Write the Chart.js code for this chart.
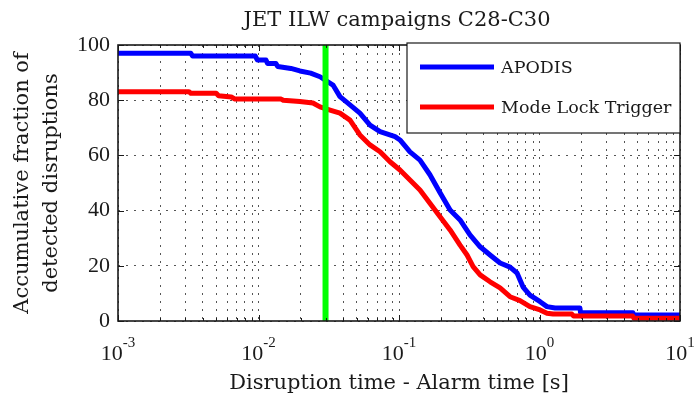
<!DOCTYPE html>
<html>
<head>
<meta charset="utf-8">
<script src="https://cdn.jsdelivr.net/npm/chart.js@4.4.1/dist/chart.umd.min.js"></script>
<style>
  html, body { margin: 0; padding: 0; background: #fff; }
  #wrap { width: 695px; height: 401px; }
</style>
</head>
<body>
<div id="wrap"><canvas id="cdf" width="695" height="401"></canvas></div>
<script>
// Warning time (s) vs. accumulated fraction of detected disruptions (%)
const apodisTime = [0.001, 0.0033, 0.0034, 0.0095, 0.0098, 0.0113, 0.0116, 0.0133, 0.0137, 0.017, 0.0197, 0.0235, 0.0274, 0.0339, 0.038, 0.0448, 0.0527, 0.0622, 0.0733, 0.0938, 0.1016, 0.1197, 0.141, 0.166, 0.196, 0.231, 0.272, 0.32, 0.378, 0.445, 0.524, 0.617, 0.692, 0.764, 0.855, 1.01, 1.13, 1.29, 1.94, 1.96, 4.62, 4.7, 10];
const apodisFrac = [97, 97, 96, 96, 94.6, 94.6, 93.3, 93.3, 92.2, 91.5, 90.6, 89.8, 88.5, 85.5, 81.3, 78.3, 75.3, 71, 68.6, 66.8, 65.6, 61.3, 58.3, 53, 46.5, 40.2, 36.6, 31.2, 26.9, 23.9, 21, 19.5, 17.4, 12.3, 9.4, 7, 5.2, 4.7, 4.7, 3.0, 3.0, 2.2, 2.2];

const mltTime = [0.001, 0.0032, 0.0033, 0.005, 0.0052, 0.0064, 0.0068, 0.0145, 0.015, 0.0197, 0.0244, 0.0274, 0.0323, 0.038, 0.0448, 0.0527, 0.0622, 0.0733, 0.0863, 0.1016, 0.1197, 0.141, 0.166, 0.196, 0.231, 0.272, 0.305, 0.337, 0.378, 0.445, 0.524, 0.617, 0.726, 0.855, 1.01, 1.13, 1.25, 1.7, 1.75, 4.6, 4.7, 10];
const mltFrac = [83.1, 83.1, 82.5, 82.5, 81.6, 81.2, 80.4, 80.4, 80.0, 79.5, 79, 77.6, 76.4, 75.3, 72.8, 67.4, 63.8, 61.3, 57.7, 54.7, 51.1, 47.5, 42.7, 37.8, 33, 27.5, 23.9, 19.7, 16.7, 14.2, 12, 8.8, 7.4, 5.2, 4.0, 2.8, 2.5, 2.5, 1.8, 1.8, 1.0, 1.0];

// alarm threshold marker
const alarmTime = 0.03;

const xDecades = [-3, -2, -1, 0, 1];
const yTickStep = 20;
const legendOrder = ['APODIS', 'Mode Lock Trigger'];

const serif = '"DejaVu Serif", serif';
const times = '"Liberation Serif", "Times New Roman", serif';
const ink = '#1a1a1a';

function toPoints(xs, ys) {
    return xs.map((x, i) => ({ x: x, y: ys[i] }));
}

// 1..9 x 10^n minor ticks for every decade, like a matlab log axis
const xTickValues = [];
xDecades.forEach((e, k) => {
    for (let s = 1; s <= 9; s++) {
        if (k === xDecades.length - 1 && s > 1) break;
        xTickValues.push(parseFloat((s * Math.pow(10, e)).toPrecision(6)));
    }
});

function isDecade(v) {
    const l = Math.log10(v);
    return Math.abs(l - Math.round(l)) < 1e-9;
}

const framePlugin = {
    id: 'frame',
    afterDatasetsDraw(chart) {
        const { ctx, chartArea: { left, right, top, bottom }, scales: { x, y } } = chart;
        ctx.save();
        ctx.strokeStyle = ink;
        ctx.lineWidth = 1;
        ctx.beginPath();
        x.ticks.forEach(t => {
            const px = Math.round(x.getPixelForValue(t.value)) + 0.5;
            const len = isDecade(t.value) ? 6 : 3;
            ctx.moveTo(px, bottom); ctx.lineTo(px, bottom - len);
            ctx.moveTo(px, top); ctx.lineTo(px, top + len);
        });
        y.ticks.forEach(t => {
            const py = Math.round(y.getPixelForValue(t.value)) + 0.5;
            ctx.moveTo(left, py); ctx.lineTo(left + 6, py);
            ctx.moveTo(right, py); ctx.lineTo(right - 6, py);
        });
        ctx.stroke();
        ctx.lineWidth = 1.6;
        ctx.strokeRect(left, top, right - left, bottom - top);
        ctx.restore();
    },
    afterDraw(chart) {
        const { ctx, chartArea: { left, right, top, bottom }, scales: { x } } = chart;
        ctx.save();
        ctx.fillStyle = ink;

        // title
        ctx.font = '21px ' + serif;
        ctx.textAlign = 'center';
        ctx.textBaseline = 'alphabetic';
        ctx.fillText('JET ILW campaigns C28-C30', (left + right) / 2 - 2, 26);

        // decade labels with raised exponent
        xDecades.forEach(e => {
            const px = x.getPixelForValue(Math.pow(10, e));
            const exp = String(e);
            ctx.font = '22px ' + times;
            const wb = ctx.measureText('10').width;
            ctx.font = '15px ' + times;
            const we = ctx.measureText(exp).width;
            const x0 = px - (wb + we) / 2;
            ctx.textAlign = 'left';
            ctx.font = '22px ' + times;
            ctx.fillText('10', x0, bottom + 39);
            ctx.font = '15px ' + times;
            ctx.fillText(exp, x0 + wb, bottom + 26);
        });

        // legend box in the upper right corner
        const lx = right - 273, ly = top - 2, lw = 273, lh = 90;
        ctx.fillStyle = '#fff';
        ctx.fillRect(lx, ly, lw, lh);
        ctx.strokeStyle = ink;
        ctx.lineWidth = 1.2;
        ctx.strokeRect(lx, ly, lw, lh);
        legendOrder.forEach((name, i) => {
            const d = chart.data.datasets.find(ds => ds.label === name);
            const yy = ly + 24 + i * 40;
            ctx.strokeStyle = d.borderColor;
            ctx.lineWidth = 5;
            ctx.beginPath();
            ctx.moveTo(lx + 13, yy);
            ctx.lineTo(lx + 87, yy);
            ctx.stroke();
            ctx.fillStyle = ink;
            ctx.font = '17.5px ' + serif;
            ctx.textAlign = 'left';
            ctx.textBaseline = 'middle';
            ctx.fillText(d.label, lx + 94, yy + 1);
        });
        ctx.restore();
    }
};

const gridOpts = { color: '#555', lineWidth: 1, drawTicks: false };

new Chart(document.getElementById('cdf'), {
    type: 'line',
    data: {
        datasets: [
            {
                label: 'Alarm',
                data: [{ x: alarmTime, y: 0 }, { x: alarmTime, y: 100 }],
                borderColor: '#00ff00',
                borderWidth: 6,
                pointRadius: 0
            },
            {
                label: 'Mode Lock Trigger',
                data: toPoints(mltTime, mltFrac),
                borderColor: '#ff0000',
                borderWidth: 5,
                borderJoinStyle: 'round',
                pointRadius: 0,
                tension: 0
            },
            {
                label: 'APODIS',
                data: toPoints(apodisTime, apodisFrac),
                borderColor: '#0000ff',
                borderWidth: 5,
                borderJoinStyle: 'round',
                pointRadius: 0,
                tension: 0
            }
        ]
    },
    options: {
        responsive: false,
        animation: false,
        layout: { padding: { left: 0, right: 15, top: 45, bottom: 0 } },
        plugins: {
            legend: { display: false },
            tooltip: { enabled: false }
        },
        scales: {
            x: {
                type: 'logarithmic',
                min: 0.001,
                max: 10,
                afterBuildTicks: (scale) => {
                    scale.ticks = xTickValues.map(v => ({ value: v }));
                },
                afterFit: (scale) => { scale.height = 80; },
                ticks: { display: false },
                grid: gridOpts,
                border: { display: false, dash: [2, 6] },
                title: {
                    display: true,
                    text: 'Disruption time - Alarm time [s]',
                    color: ink,
                    font: { family: serif, size: 21, lineHeight: 1.2 },
                    padding: { top: 0, bottom: 5 }
                }
            },
            y: {
                min: 0,
                max: 100,
                afterFit: (scale) => { scale.width = 118; },
                ticks: {
                    stepSize: yTickStep,
                    padding: 8,
                    color: ink,
                    font: { family: times, size: 22 }
                },
                grid: gridOpts,
                border: { display: false, dash: [2, 6] },
                title: {
                    display: true,
                    text: ['Accumulative fraction of', 'detected disruptions'],
                    color: ink,
                    font: { family: serif, size: 21, lineHeight: 1.38 },
                    padding: { top: 8, bottom: 0 }
                }
            }
        }
    },
    plugins: [framePlugin]
});
</script>
</body>
</html>
